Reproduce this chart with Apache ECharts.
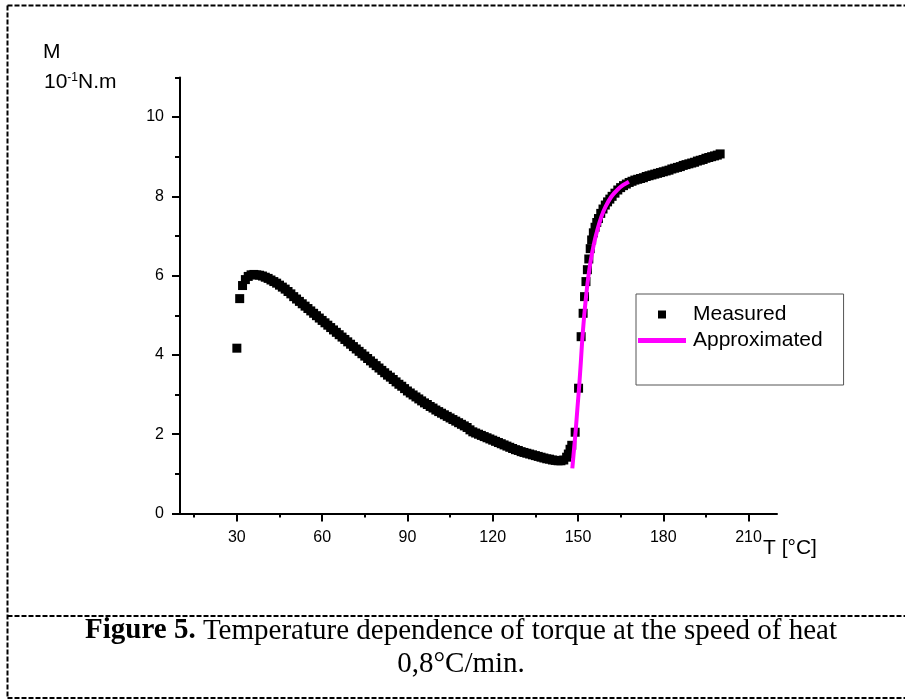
<!DOCTYPE html>
<html>
<head>
<meta charset="utf-8">
<title>Torque vs temperature</title>
<script src="https://cdn.jsdelivr.net/npm/echarts@6/dist/echarts.min.js"></script>
</head>
<body style="margin:0;background:#fff;">
<div id="main" style="width:905px;height:700px;"></div>
<script type="text/javascript">
// measured torque M (10^-1 N.m) vs temperature T (°C)
// falling part
var fallT = [30, 31, 32, 33, 34, 35, 36, 37, 38, 39, 40, 41, 42, 43, 44, 45, 46, 47, 48, 49,
    50, 51, 52, 53, 54, 55, 56, 57, 58, 59, 60, 61, 62, 63, 64, 65, 66, 67, 68, 69,
    70, 71, 72, 73, 74, 75, 76, 77, 78, 79, 80, 81, 82, 83, 84, 85, 86, 87, 88, 89,
    90, 91, 92, 93, 94, 95, 96, 97, 98, 99, 100, 101, 102, 103, 104, 105, 106, 107, 108, 109,
    110, 111, 112, 113, 114, 115, 116, 117, 118, 119, 120, 121, 122, 123, 124, 125, 126, 127, 128, 129,
    130, 131, 132, 133, 134, 135, 136, 137, 138, 139, 140, 141, 142, 143, 144, 145, 146];
var fallM = [4.17, 5.42, 5.75, 5.90, 5.98, 6.02, 6.03, 6.02, 6.01, 5.99, 5.96, 5.93, 5.89, 5.85, 5.81, 5.76, 5.71, 5.66, 5.60, 5.54,
    5.47, 5.41, 5.35, 5.29, 5.23, 5.17, 5.11, 5.05, 4.99, 4.93, 4.87, 4.81, 4.75, 4.69, 4.63, 4.57, 4.51, 4.45, 4.39, 4.33,
    4.27, 4.21, 4.15, 4.09, 4.03, 3.97, 3.91, 3.85, 3.79, 3.73, 3.67, 3.61, 3.55, 3.49, 3.44, 3.38, 3.32, 3.26, 3.21, 3.15,
    3.09, 3.04, 2.99, 2.94, 2.89, 2.84, 2.79, 2.75, 2.70, 2.66, 2.61, 2.57, 2.53, 2.49, 2.45, 2.41, 2.37, 2.33, 2.29, 2.25,
    2.21, 2.17, 2.11, 2.06, 2.03, 2.00, 1.97, 1.94, 1.91, 1.88, 1.85, 1.82, 1.79, 1.76, 1.73, 1.70, 1.67, 1.64, 1.61, 1.59,
    1.56, 1.54, 1.52, 1.50, 1.48, 1.46, 1.44, 1.42, 1.40, 1.38, 1.37, 1.35, 1.34, 1.33, 1.33, 1.35, 1.42];
// steep rise
var riseT = [146.6, 147.2, 147.8, 149.0, 150.2, 151.1, 151.8, 152.3, 152.8, 153.3, 153.8, 154.3, 154.8, 155.4, 156.0, 156.6,
    157.2, 158.0, 158.8, 159.6, 160.4, 161.2, 162.0, 163.0, 164.0, 165.0, 166.0, 167.0, 168.0, 169.0, 170.0, 171.0];
var riseM = [1.50, 1.62, 1.72, 2.05, 3.16, 4.46, 5.05, 5.47, 5.85, 6.15, 6.42, 6.68, 6.90, 7.08, 7.22, 7.34,
    7.44, 7.57, 7.68, 7.78, 7.86, 7.93, 8.00, 8.08, 8.16, 8.22, 8.27, 8.31, 8.35, 8.38, 8.41, 8.43];
// slow growth at the end
var highT = [172, 173, 174, 175, 176, 177, 178, 179, 180, 181, 182, 183, 184, 185, 186,
    187, 188, 189, 190, 191, 192, 193, 194, 195, 196, 197, 198, 199, 200];
var highM = [8.45, 8.47, 8.50, 8.52, 8.54, 8.56, 8.58, 8.60, 8.62, 8.64, 8.66, 8.69, 8.71, 8.73, 8.75,
    8.78, 8.80, 8.82, 8.84, 8.86, 8.89, 8.91, 8.93, 8.96, 8.98, 9.00, 9.02, 9.04, 9.07];

// approximated curve (magenta)
var approxT = [148.0, 148.6, 149.2, 149.8, 150.4, 151.0, 151.5, 152.1, 152.7, 153.6, 154.5, 155.6, 156.8,
    158.2, 159.7, 161.7, 163.8, 165.8, 167.9];
var approxM = [1.14, 1.62, 2.10, 2.66, 3.20, 3.82, 4.38, 4.92, 5.38, 5.95, 6.39, 6.80, 7.15,
    7.48, 7.74, 7.99, 8.16, 8.28, 8.37];

// axis ticks
var xMajor = [30, 60, 90, 120, 150, 180, 210];
var xMinor = [15, 45, 75, 105, 135, 165, 195];
var yMajor = [0, 2, 4, 6, 8, 10];
var yMinor = [1, 3, 5, 7, 9, 11];

var sans = 'Liberation Sans, Arial, sans-serif';
var serif = 'Liberation Serif, Times New Roman, serif';

function pairs(xs, ys) {
    return xs.map(function (x, i) { return [x, ys[i]]; });
}
var measured = pairs(fallT, fallM).concat(pairs(riseT, riseM), pairs(highT, highM));
var approximated = pairs(approxT, approxM);

var tickStyle = {color: '#000', width: 2};
var dash = {stroke: '#000', lineWidth: 2, lineDash: [5, 2]};

var myChart = echarts.init(document.getElementById('main'));
myChart.setOption({
    animation: false,
    backgroundColor: '#fff',
    grid: {left: 180, right: 128, top: 77.4, bottom: 186.5},
    xAxis: [{
        type: 'value', min: 10, max: 220,
        axisLine: {onZero: false, lineStyle: tickStyle},
        axisTick: {customValues: xMajor, length: 8, lineStyle: tickStyle},
        axisLabel: {customValues: xMajor, margin: 16, color: '#000', fontSize: 16, fontFamily: sans},
        splitLine: {show: false}
    }, {
        // minor ticks only
        type: 'value', min: 10, max: 220, position: 'bottom',
        axisLine: {show: false, onZero: false},
        axisTick: {customValues: xMinor, length: 4, lineStyle: tickStyle},
        axisLabel: {show: false},
        splitLine: {show: false}
    }],
    yAxis: [{
        type: 'value', min: 0, max: 11,
        axisLine: {show: true, onZero: false, lineStyle: tickStyle},
        axisTick: {show: true, customValues: yMajor, length: 8, lineStyle: tickStyle},
        axisLabel: {customValues: yMajor, margin: 16, color: '#000', fontSize: 16, fontFamily: sans},
        splitLine: {show: false}
    }, {
        type: 'value', min: 0, max: 11, position: 'left',
        axisLine: {show: false, onZero: false},
        axisTick: {show: true, customValues: yMinor, length: 5, lineStyle: tickStyle},
        axisLabel: {show: false},
        splitLine: {show: false}
    }],
    legend: {
        orient: 'vertical',
        left: 636, top: 294,
        padding: [10, 21, 34, 2],
        itemWidth: 48, itemHeight: 8, itemGap: 5,
        symbolKeepAspect: true,
        borderColor: '#555', borderWidth: 1,
        textStyle: {fontSize: 21, lineHeight: 21, fontFamily: sans, color: '#000', padding: [0, 0, 0, 2]},
        data: [
            {name: 'Measured', icon: 'path://M0,0L8,0L8,8L0,8Z'},
            {name: 'Approximated', icon: 'path://M0,0L48,0L48,5L0,5Z'}
        ]
    },
    series: [{
        name: 'Measured',
        type: 'scatter',
        symbol: 'rect',
        symbolSize: 9,
        itemStyle: {color: '#000', opacity: 1},
        data: measured
    }, {
        name: 'Approximated',
        type: 'line',
        symbol: 'none',
        smooth: 0.3,
        itemStyle: {color: '#ff00ff'},
        lineStyle: {color: '#ff00ff', width: 4},
        data: approximated
    }],
    graphic: [
        // dashed frame of the figure and caption
        {type: 'line', silent: true, shape: {x1: 7.5, y1: 5.5, x2: 905, y2: 5.5}, style: dash},
        {type: 'line', silent: true, shape: {x1: 7.5, y1: 5.5, x2: 7.5, y2: 698}, style: dash},
        {type: 'line', silent: true, shape: {x1: 7.5, y1: 616, x2: 905, y2: 616}, style: dash},
        {type: 'line', silent: true, shape: {x1: 7.5, y1: 698, x2: 905, y2: 698}, style: dash},
        // axis titles
        {type: 'text', x: 43, y: 52.5, silent: true,
            style: {text: 'M', fontSize: 21, fontFamily: sans, fill: '#000', verticalAlign: 'middle'}},
        {type: 'text', x: 44, y: 82.5, silent: true,
            style: {
                text: '{n|10}{s|-1}{n|N.m}', fill: '#000', verticalAlign: 'middle',
                rich: {
                    n: {fontSize: 21, fontFamily: sans, lineHeight: 22},
                    s: {fontSize: 12, fontFamily: sans, verticalAlign: 'top'}
                }
            }},
        {type: 'text', x: 763, y: 548.5, silent: true,
            style: {text: 'T [°C]', fontSize: 21, fontFamily: sans, fill: '#000', verticalAlign: 'middle'}},
        // caption
        {type: 'text', x: 461, y: 631, silent: true,
            style: {
                text: '{b|Figure 5.}{r| Temperature dependence of torque at the speed of heat}',
                fill: '#000', align: 'center', verticalAlign: 'middle',
                rich: {
                    b: {fontSize: 29, fontFamily: serif, fontWeight: 'bold'},
                    r: {fontSize: 29, fontFamily: serif}
                }
            }},
        {type: 'text', x: 461, y: 664, silent: true,
            style: {text: '0,8°C/min.', fontSize: 29, fontFamily: serif, fill: '#000',
                align: 'center', verticalAlign: 'middle'}}
    ]
});
</script>
</body>
</html>
